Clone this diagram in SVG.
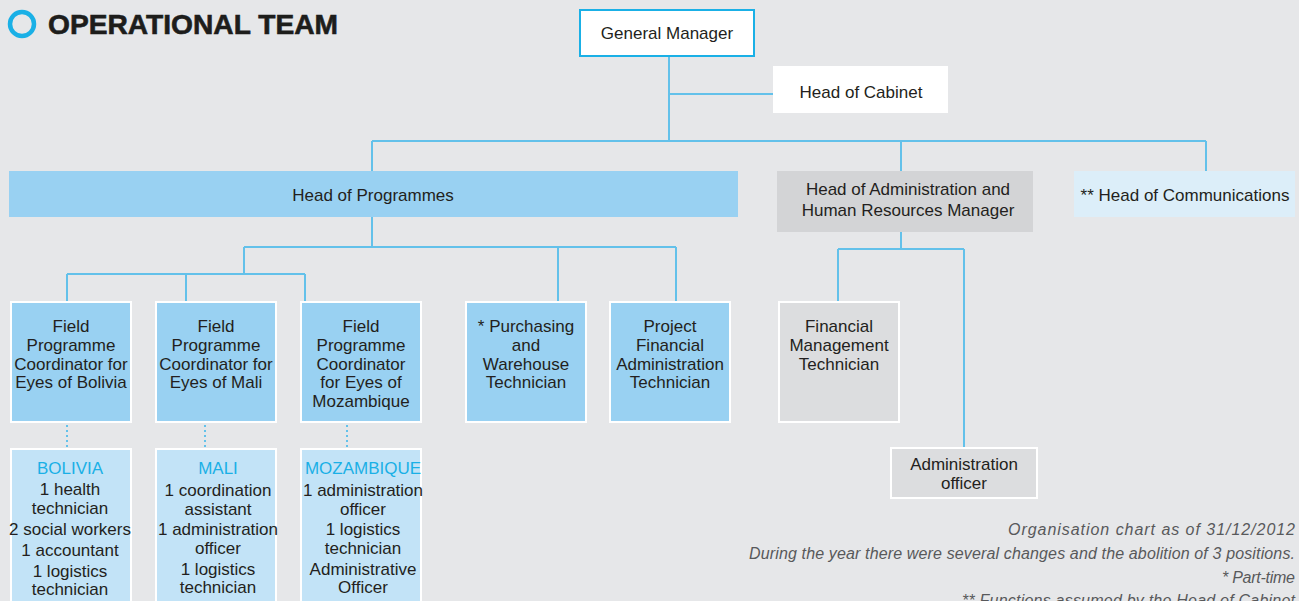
<svg xmlns="http://www.w3.org/2000/svg" width="1299" height="601" viewBox="0 0 1299 601">
<style>
text{font-family:"Liberation Sans",Arial,sans-serif;fill:#231f20;font-size:17px;text-anchor:middle}
.title{font-weight:bold;font-size:28px;text-anchor:start;fill:#1d1d1b}
.conn{stroke:#63c1ea;stroke-width:2;fill:none}
.dot{stroke:#63c1ea;stroke-width:2;stroke-dasharray:2 3;fill:none}
.blue{fill:#99d1f2;stroke:#ffffff;stroke-width:2}
.lblue{fill:#c2e3f7;stroke:#ffffff;stroke-width:2}
.gray{fill:#dcdddf;stroke:#ffffff;stroke-width:2}
.country{fill:#1ab0e6}
.note{font-style:italic;fill:#58595b;font-size:16px;text-anchor:start}
</style>
<rect width="1299" height="601" fill="#e6e7e9"/>
<g id="title">
<circle cx="22" cy="24" r="12" fill="none" stroke="#1ab0e6" stroke-width="4.5"/>
<text class="title" x="48" y="34" textLength="290" lengthAdjust="spacingAndGlyphs" stroke="#1d1d1b" stroke-width="0.6">OPERATIONAL TEAM</text>
</g>
<g id="connectors">
<path class="conn" d="M669 57V141M669 94H773M372 141H1206M372 141V171M901 141V171M1206 141V171"/>
<path class="conn" d="M372 217V247M244 247H676M244 247V274M67 274H305M67 274V302M186 274V302M305 274V302M558 247V302M676 247V302"/>
<path class="conn" d="M901 232V249M838 249H964M838 249V302M964 249V448"/>
<path class="dot" d="M67 425V448M205 425V448M347 425V448"/>
</g>
<g id="general-manager">
<rect x="580" y="10" width="174" height="46" fill="#ffffff" stroke="#1ab0e6" stroke-width="2"/>
<text x="667" y="39">General Manager</text>
</g>
<g id="head-of-cabinet">
<rect x="773" y="66" width="175" height="47" fill="#ffffff"/>
<text x="861" y="98">Head of Cabinet</text>
</g>
<g id="head-of-programmes">
<rect x="9" y="171" width="729" height="46" fill="#99d1f2"/>
<text x="373" y="201">Head of Programmes</text>
</g>
<g id="head-of-administration">
<rect x="777" y="171" width="256" height="61" fill="#d3d4d6"/>
<text x="908" y="195">Head of Administration and</text>
<text x="908" y="216">Human Resources Manager</text>
</g>
<g id="head-of-communications">
<rect x="1074" y="171" width="221" height="46" fill="#dceef9"/>
<text x="1185" y="201">** Head of Communications</text>
</g>
<g id="fpc-bolivia">
<rect class="blue" x="11" y="302" width="120" height="120"/>
<text x="71" y="332">Field</text>
<text x="71" y="351">Programme</text>
<text x="71" y="370">Coordinator for</text>
<text x="71" y="388">Eyes of Bolivia</text>
</g>
<g id="fpc-mali">
<rect class="blue" x="156" y="302" width="120" height="120"/>
<text x="216" y="332">Field</text>
<text x="216" y="351">Programme</text>
<text x="216" y="370">Coordinator for</text>
<text x="216" y="388">Eyes of Mali</text>
</g>
<g id="fpc-mozambique">
<rect class="blue" x="301" y="302" width="120" height="120"/>
<text x="361" y="332">Field</text>
<text x="361" y="351">Programme</text>
<text x="361" y="370">Coordinator</text>
<text x="361" y="388">for Eyes of</text>
<text x="361" y="407">Mozambique</text>
</g>
<g id="purchasing">
<rect class="blue" x="466" y="302" width="120" height="120"/>
<text x="526" y="332">* Purchasing</text>
<text x="526" y="351">and</text>
<text x="526" y="370">Warehouse</text>
<text x="526" y="388">Technician</text>
</g>
<g id="project-financial">
<rect class="blue" x="610" y="302" width="120" height="120"/>
<text x="670" y="332">Project</text>
<text x="670" y="351">Financial</text>
<text x="670" y="370">Administration</text>
<text x="670" y="388">Technician</text>
</g>
<g id="financial-management">
<rect class="gray" x="779" y="302" width="120" height="120"/>
<text x="839" y="332">Financial</text>
<text x="839" y="351">Management</text>
<text x="839" y="370">Technician</text>
</g>
<g id="administration-officer">
<rect class="gray" x="891" y="448" width="146" height="50"/>
<text x="964" y="470">Administration</text>
<text x="964" y="489">officer</text>
</g>
<g id="bolivia">
<rect class="lblue" x="11" y="449" width="120" height="160"/>
<text class="country" x="70" y="474">BOLIVIA</text>
<text x="70" y="495">1 health</text>
<text x="70" y="514">technician</text>
<text x="70" y="535">2 social workers</text>
<text x="70" y="556">1 accountant</text>
<text x="70" y="577">1 logistics</text>
<text x="70" y="595">technician</text>
</g>
<g id="mali">
<rect class="lblue" x="156" y="449" width="120" height="160"/>
<text class="country" x="218" y="474">MALI</text>
<text x="218" y="496">1 coordination</text>
<text x="218" y="515">assistant</text>
<text x="218" y="535">1 administration</text>
<text x="218" y="554">officer</text>
<text x="218" y="575">1 logistics</text>
<text x="218" y="593">technician</text>
</g>
<g id="mozambique">
<rect class="lblue" x="301" y="449" width="120" height="160"/>
<text class="country" x="363" y="474">MOZAMBIQUE</text>
<text x="363" y="496">1 administration</text>
<text x="363" y="515">officer</text>
<text x="363" y="535">1 logistics</text>
<text x="363" y="554">technician</text>
<text x="363" y="575">Administrative</text>
<text x="363" y="593">Officer</text>
</g>
<g id="notes">
<text class="note" x="1008" y="535" textLength="287" lengthAdjust="spacing">Organisation chart as of 31/12/2012</text>
<text class="note" x="749" y="559" textLength="546" lengthAdjust="spacing">During the year there were several changes and the abolition of 3 positions.</text>
<text class="note" x="1222" y="583" textLength="73" lengthAdjust="spacing">* Part-time</text>
<text class="note" x="962" y="606" textLength="333" lengthAdjust="spacing">** Functions assumed by the Head of Cabinet</text>
</g>
</svg>
